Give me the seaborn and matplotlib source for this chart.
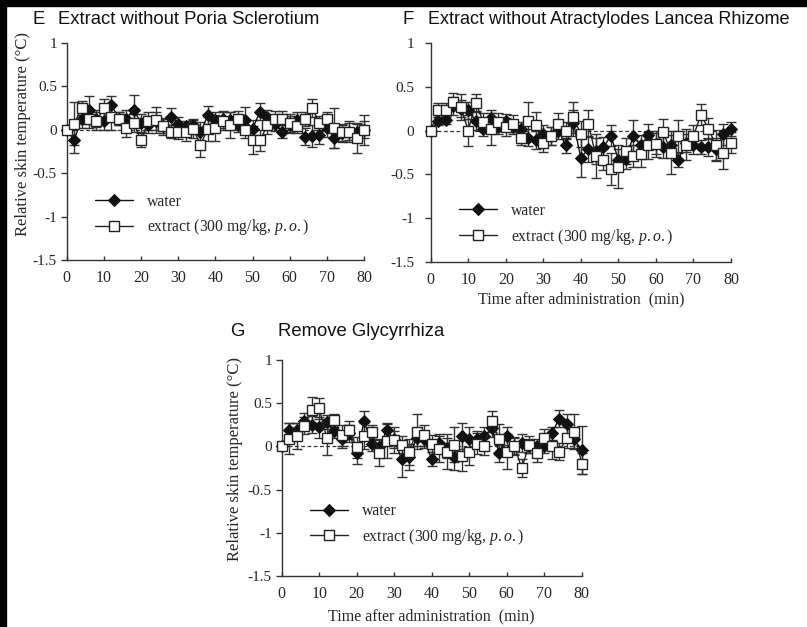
import matplotlib
matplotlib.use("Agg")
import matplotlib.pyplot as plt
import seaborn as sns
from matplotlib.patches import Rectangle

# --- data (2-min steps) ---
time = list(range(0, 81, 2))

e_water = [0, -0.12, 0.12, 0.23, 0.13, 0.10, 0.29, 0.13, 0.13, 0.23, 0.08, 0.06, 0.10, 0.04,
           0.15, 0.07, 0.04, 0.05, -0.03, 0.17, 0.11, 0.12, 0.11, 0.05, 0.11, 0.01, 0.21, 0.15,
           0.07, -0.02, 0.06, 0.11, -0.08, -0.07, -0.06, 0.02, -0.09, -0.04, -0.02, -0.02, 0]
e_water_err = [0, 0.15, 0.10, 0.16, 0.10, 0.10, 0.10, 0.08, 0.10, 0.17, 0.10, 0.10, 0.10, 0.08,
               0.10, 0.08, 0.06, 0.08, 0.12, 0.10, 0.10, 0.10, 0.10, 0.08, 0.15, 0.10, 0.10, 0.08,
               0.08, 0.08, 0.10, 0.10, 0.10, 0.13, 0.10, 0.10, 0.12, 0.10, 0.10, 0.10, 0.10]
e_extract = [0, 0.07, 0.25, 0.12, 0.10, 0.25, 0.15, 0.13, 0.02, 0.08, -0.12, 0.10, 0.11, 0.04,
             -0.02, -0.03, -0.03, 0.01, -0.17, 0.01, 0.02, 0.10, 0.06, 0.12, 0, -0.12, -0.12, 0.05,
             0.12, 0.12, 0.08, 0.04, 0.12, 0.25, 0.08, 0.13, 0.02, -0.03, -0.02, -0.10, 0]
e_extract_err = [0, 0.25, 0.08, 0.10, 0.10, 0.10, 0.15, 0.08, 0.10, 0.10, 0.08, 0.10, 0.15, 0.10,
                 0.08, 0.08, 0.10, 0.10, 0.14, 0.14, 0.15, 0.10, 0.15, 0.10, 0.10, 0.16, 0.12, 0.10,
                 0.10, 0.10, 0.10, 0.08, 0.08, 0.10, 0.08, 0.08, 0.23, 0.10, 0.12, 0.17, 0.17]

f_water = [0, 0.11, 0.12, 0.28, 0.25, 0.23, 0.11, 0.02, 0.14, 0.04, 0.11, 0.04, 0.02, -0.08,
           -0.11, -0.04, -0.06, 0, -0.17, 0.09, -0.31, -0.21, -0.23, -0.19, -0.06, -0.33, -0.32,
           -0.06, -0.17, -0.05, -0.15, -0.19, -0.17, -0.33, -0.14, -0.17, -0.19, -0.19, -0.21,
           -0.04, 0.02]
f_water_err = [0, 0.05, 0.05, 0.10, 0.10, 0.10, 0.10, 0.08, 0.10, 0.08, 0.08, 0.08, 0.08, 0.10,
               0.10, 0.10, 0.10, 0.10, 0.08, 0.15, 0.22, 0.15, 0.15, 0.12, 0.12, 0.12, 0.12, 0.18,
               0.12, 0.12, 0.12, 0.12, 0.12, 0.08, 0.10, 0.10, 0.08, 0.10, 0.12, 0.12, 0.08]
f_extract = [0, 0.23, 0.23, 0.33, 0.27, 0, 0.32, 0.10, 0.02, 0.10, 0.04, 0.08, -0.08, 0.11,
             0.06, -0.14, -0.06, 0.08, 0, 0.15, -0.04, 0.08, -0.29, -0.33, -0.44, -0.41, -0.23,
             -0.29, -0.27, -0.17, -0.15, -0.02, -0.25, -0.06, -0.16, -0.06, 0.18, 0.02, -0.17,
             -0.26, -0.14]
f_extract_err = [0, 0.08, 0.08, 0.10, 0.15, 0.18, 0.10, 0.10, 0.18, 0.10, 0.10, 0.10, 0.08, 0.22,
                 0.15, 0.10, 0.10, 0.12, 0.10, 0.18, 0.15, 0.15, 0.25, 0.12, 0.18, 0.25, 0.15, 0.12,
                 0.15, 0.15, 0.15, 0.15, 0.25, 0.18, 0.18, 0.12, 0.12, 0.12, 0.18, 0.18, 0.12]

g_water = [0, 0.19, 0.19, 0.29, 0.25, 0.22, 0.28, 0.18, 0.08, 0.15, -0.08, 0.29, 0.03, -0.01,
           0.19, 0.08, -0.15, -0.12, 0.10, 0.08, -0.15, 0.04, -0.02, -0.12, 0.12, 0.08, 0.08, 0.12,
           0.21, -0.08, 0.12, 0, 0.04, 0, 0, 0, 0.15, 0.32, 0.26, 0.08, -0.04]
g_water_err = [0, 0.08, 0.08, 0.10, 0.10, 0.12, 0.08, 0.08, 0.10, 0.10, 0.12, 0.12, 0.08, 0.10,
               0.08, 0.10, 0.20, 0.15, 0.10, 0.10, 0.08, 0.10, 0.12, 0.15, 0.15, 0.15, 0.10, 0.10,
               0.10, 0.10, 0.10, 0.10, 0.10, 0.08, 0.08, 0.08, 0.08, 0.10, 0.12, 0.10, 0.28]
g_extract = [0, 0.09, 0.12, 0.24, 0.42, 0.44, 0.10, 0.30, 0.13, 0.19, -0.01, 0.12, 0.17, -0.08,
             0.06, 0.07, 0.02, -0.06, 0.17, 0.13, 0.03, -0.03, -0.06, 0.02, -0.11, -0.07, 0.03, 0,
             0.29, 0.08, -0.06, 0.01, -0.25, 0.02, -0.08, 0.10, 0, -0.06, 0.10, 0.17, -0.20]
g_extract_err = [0, 0.18, 0.15, 0.10, 0.15, 0.12, 0.20, 0.08, 0.12, 0.10, 0.12, 0.15, 0.08, 0.15,
                 0.20, 0.15, 0.10, 0.15, 0.20, 0.12, 0.10, 0.15, 0.20, 0.20, 0.18, 0.15, 0.12, 0.10,
                 0.12, 0.18, 0.20, 0.10, 0.10, 0.10, 0.10, 0.10, 0.15, 0.10, 0.12, 0.20, 0.12]

y_ticks = [1, 0.5, 0, -0.5, -1, -1.5]
y_tick_labels = ["1", "0.5", "0", "-0.5", "-1", "-1.5"]
x_ticks = [0, 10, 20, 30, 40, 50, 60, 70, 80]

sns.set_theme(style="ticks")
plt.rcParams["font.family"] = ["Liberation Serif", "DejaVu Serif"]
plt.rcParams["mathtext.fontset"] = "custom"
plt.rcParams["mathtext.rm"] = "Liberation Serif"
plt.rcParams["mathtext.it"] = "Liberation Serif:italic"
plt.rcParams["axes.unicode_minus"] = False

W, H = 807, 627
fig = plt.figure(figsize=(W / 100, H / 100), dpi=100)

# black scan border on the top and left edges
fig.patches.append(Rectangle((0, 0), 6 / W, 1, transform=fig.transFigure, color="black", zorder=0))
fig.patches.append(Rectangle((0, 1 - 6 / H), 1, 6 / H, transform=fig.transFigure, color="black", zorder=0))


def px_axes(x0, x1, ytop, ybot):
    return fig.add_axes([x0 / W, 1 - ybot / H, (x1 - x0) / W, (ybot - ytop) / H])


def panel(ax, water, water_err, extract, extract_err, legend_pos,
          ylabel_pos=None, xlabel_pad=None, ytick_pad=3):
    ax.axhline(0, color="#333333", lw=0.9, ls=(0, (3, 2)), zorder=1)
    ax.errorbar(time, water, yerr=water_err, fmt="none", ecolor="#333333", elinewidth=1,
                capsize=3.5, capthick=1, zorder=2, clip_on=False)
    ax.errorbar(time, extract, yerr=extract_err, fmt="none", ecolor="#333333", elinewidth=1,
                capsize=3.5, capthick=1, zorder=2, clip_on=False)
    sns.lineplot(x=time, y=water, ax=ax, color="#111111", lw=1, marker="D", markersize=6,
                 markerfacecolor="#111111", markeredgecolor="#111111", label="water",
                 clip_on=False, zorder=3)
    sns.lineplot(x=time, y=extract, ax=ax, color="#222222", lw=1, marker="s", markersize=7.5,
                 markerfacecolor="white", markeredgecolor="#222222", markeredgewidth=1,
                 label="extract (300 mg/kg, $\\it{p.o.}$)", clip_on=False, zorder=4)
    ax.set_xlim(0, 80)
    ax.set_ylim(-1.5, 1)
    ax.set_xticks(x_ticks)
    ax.set_yticks(y_ticks)
    ax.set_yticklabels(y_tick_labels)
    sns.despine(ax=ax)
    for s in ("left", "bottom"):
        ax.spines[s].set_color("#333333")
        ax.spines[s].set_linewidth(1)
    ax.tick_params(axis="x", direction="in", length=3, width=1, color="#333333",
                   labelsize=11.5, pad=7)
    ax.tick_params(axis="y", direction="out", length=4, width=1, color="#333333",
                   labelsize=11, pad=ytick_pad)
    if ylabel_pos is not None:
        ax.set_ylabel("Relative skin temperature (°C)", fontsize=12)
        ax.yaxis.set_label_coords(*ylabel_pos)
    else:
        ax.set_ylabel("")
    if xlabel_pad is not None:
        ax.set_xlabel("Time after administration  (min)", fontsize=11.5, labelpad=xlabel_pad)
    ax.legend(loc="center left", bbox_to_anchor=legend_pos, frameon=False, fontsize=11.3,
              handlelength=2.4, handletextpad=0.9, labelspacing=0.5, borderpad=0,
              borderaxespad=0)


ax_e = px_axes(66.7, 364, 43, 260)
panel(ax_e, e_water, e_water_err, e_extract, e_extract_err, (0.095, 0.205),
      ylabel_pos=(-0.12, 0.58))

ax_f = px_axes(430.7, 731, 43, 262)
panel(ax_f, f_water, f_water_err, f_extract, f_extract_err, (0.094, 0.17),
      xlabel_pad=3, ytick_pad=8)

ax_g = px_axes(281.7, 581.7, 360, 576)
panel(ax_g, g_water, g_water_err, g_extract, g_extract_err, (0.094, 0.236),
      ylabel_pos=(-0.13, 0.54), xlabel_pad=4.5)

# panel letters and titles
title_font = dict(family="Liberation Sans", fontsize=13.3, va="center", color="#111111")
fig.text(33 / W, 1 - 19 / H, "E", ha="left", **title_font)
fig.text(58 / W, 1 - 19 / H, "Extract without Poria Sclerotium", ha="left", **title_font)
fig.text(402 / W, 1 - 19 / H, "F", ha="left", **title_font)
fig.text(428 / W, 1 - 19 / H, "Extract without Atractylodes Lancea Rhizome", ha="left",
         family="Liberation Sans", fontsize=13, va="center", color="#111111")
fig.text(230 / W, 1 - 332 / H, "G", ha="left", **title_font)
fig.text(278 / W, 1 - 332 / H, "Remove Glycyrrhiza", ha="left", **title_font)

fig.savefig("out.png", dpi=100)
